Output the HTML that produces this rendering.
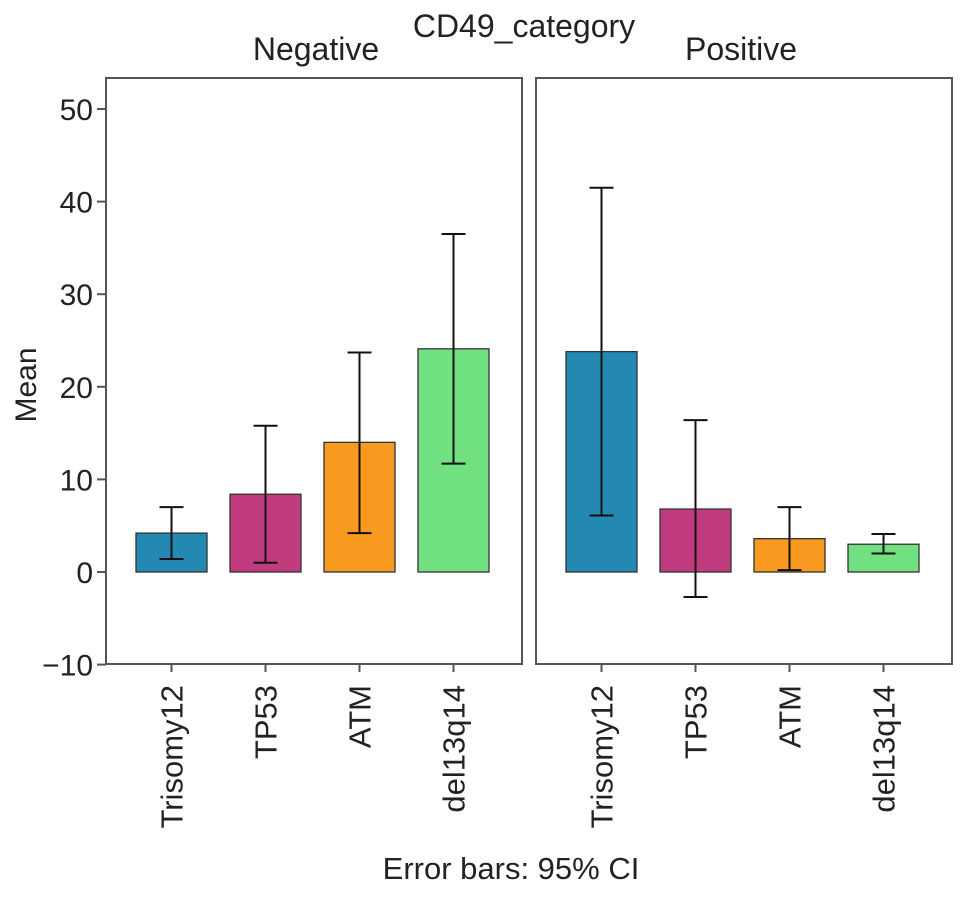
<!DOCTYPE html>
<html><head><meta charset="utf-8"><style>
body{margin:0;background:#fff;}
svg text{font-family:"Liberation Sans",Arial,sans-serif;fill:#222;}
</style></head><body>
<svg id="chart" width="969" height="894" viewBox="0 0 969 894"></svg>
<script>
const categories=["Trisomy12","TP53","ATM","del13q14"];
const panels=["Negative","Positive"];
const negMeans=[4.2,8.4,14.0,24.1];
const negLow=[1.4,1.0,4.2,11.7];
const negHigh=[7.0,15.8,23.7,36.5];
const posMeans=[23.8,6.8,3.6,3.0];
const posLow=[6.1,-2.7,0.2,2.0];
const posHigh=[41.5,16.4,7.0,4.1];
const yTicks=[-10,0,10,20,30,40,50];
const colors=["#2389b3","#c13c7e","#f89a1f","#70e080"];

const NS="http://www.w3.org/2000/svg";
const svg=document.getElementById('chart');
function mk(tag,attrs,parent){const e=document.createElementNS(NS,tag);for(const k in attrs)e.setAttribute(k,attrs[k]);(parent||svg).appendChild(e);return e;}
const y0=572,pxPer=9.26;
function yScale(v){return y0-v*pxPer;}
const panelX=[106,536],panelW=416,panelTop=78,panelBottom=664;
function xScale(p,i){return panelX[p]+30+i*94+35.5;}
const barW=71;

let t=mk('text',{x:524,y:37,'font-size':32,'text-anchor':'middle'});t.textContent="CD49_category";


const series=[[negMeans,negLow,negHigh],[posMeans,posLow,posHigh]];
panels.forEach((name,p)=>{
  let lbl=mk('text',{x:panelX[p]+panelW/2+(p?-3:2),y:60,'font-size':32,'text-anchor':'middle'});lbl.textContent=name;
  
  
  let r=mk('rect',{x:panelX[p],y:panelTop,width:panelW,height:panelBottom-panelTop,fill:'none',stroke:'#555','stroke-width':2});
  
  
  const [m,lo,hi]=series[p];
  categories.forEach((c,i)=>{
    const cx=xScale(p,i);
    const b=mk('rect',{x:cx-barW/2,y:Math.min(yScale(m[i]),y0),width:barW,height:Math.abs(yScale(m[i])-y0),fill:colors[i],stroke:'#333','stroke-width':1.3});
    
    
    const g=mk('g',{stroke:'#111','stroke-width':2});
    
    
    mk('line',{x1:cx,x2:cx,y1:yScale(lo[i]),y2:yScale(hi[i])},g);
    mk('line',{x1:cx-12,x2:cx+12,y1:yScale(lo[i]),y2:yScale(lo[i])},g);
    mk('line',{x1:cx-12,x2:cx+12,y1:yScale(hi[i]),y2:yScale(hi[i])},g);
    mk('line',{x1:cx,x2:cx,y1:panelBottom,y2:panelBottom+8,stroke:'#555','stroke-width':2});
    const tl=mk('text',{x:0,y:0,'font-size':31,'text-anchor':'end',transform:`translate(${cx+11},${panelBottom+21}) rotate(-90)`});
    tl.textContent=c;
    
    
  });
});
yTicks.forEach(v=>{
  const y=yScale(v);
  mk('line',{x1:97,x2:106,y1:y,y2:y,stroke:'#555','stroke-width':2});
  const tl=mk('text',{x:93,y:y+11,'font-size':30,'text-anchor':'end'});
  tl.textContent=v<0?'\u2212'+Math.abs(v):String(v);
  
  
});
let yt=mk('text',{x:0,y:0,'font-size':30,'text-anchor':'middle',transform:'translate(36,385) rotate(-90)'});yt.textContent="Mean";

let ft=mk('text',{x:511,y:879,'font-size':31,'text-anchor':'middle'});ft.textContent="Error bars: 95% CI";

</script>
</body></html>
